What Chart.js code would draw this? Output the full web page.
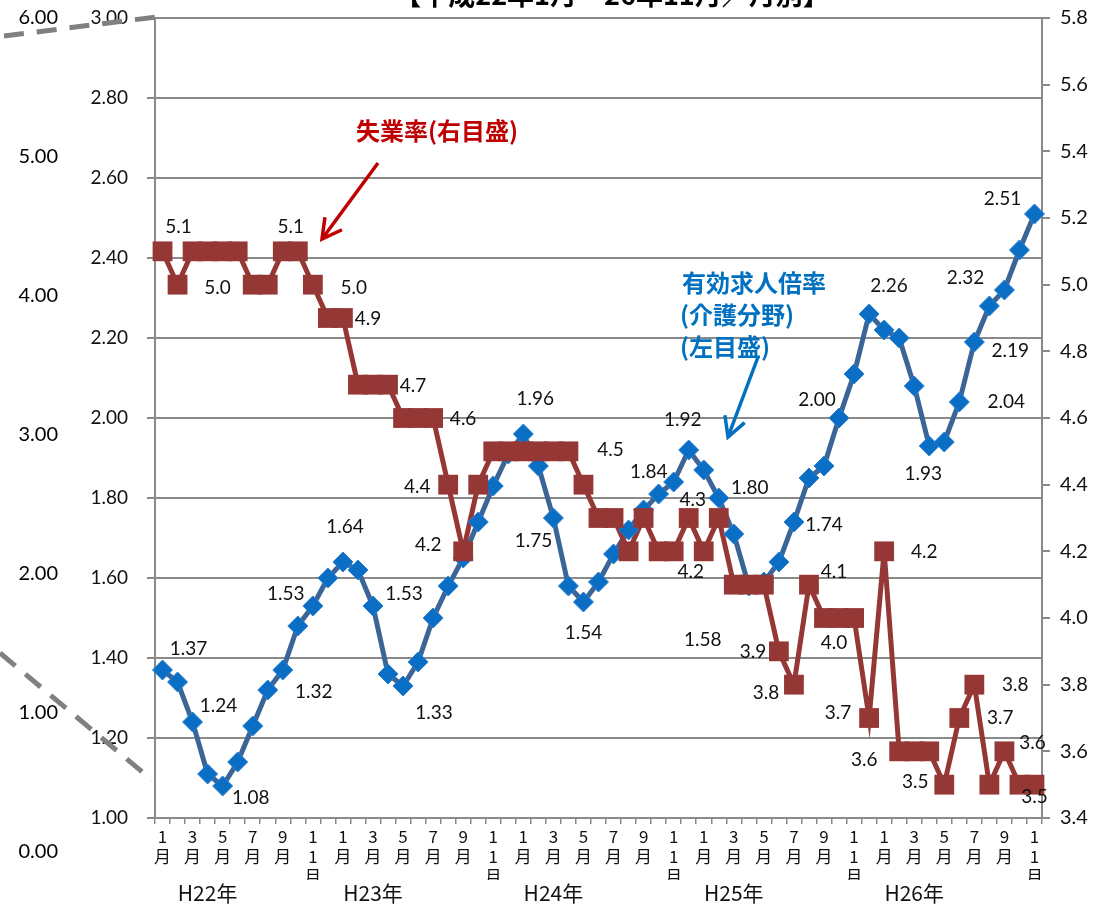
<!DOCTYPE html>
<html>
<head>
<meta charset="utf-8">
<script src="https://cdn.jsdelivr.net/npm/chart.js@4.4.0/dist/chart.umd.min.js"></script>
<style>
  html, body { margin: 0; padding: 0; background: #fff; }
</style>
</head>
<body>
<canvas id="chart" width="1098" height="908"></canvas>
<script>
// categories: H22年1月 .. H26年11月
var years = ["H22", "H23", "H24", "H25", "H26"];
var monthsPerYear = [12, 12, 12, 12, 11];
var categories = [];
years.forEach(function (y, k) {
  for (var m = 1; m <= monthsPerYear[k]; m++) categories.push(y + "年" + m + "月");
});

var yearLabels = ["H22年", "H23年", "H24年", "H25年", "H26年"];
var yearLabelAt = [3, 14, 26, 38, 50];

// 有効求人倍率（介護分野） left axis
var jobRatio = [
  1.37, 1.34, 1.24, 1.11, 1.08, 1.14, 1.23, 1.32, 1.37, 1.48, 1.53, 1.60,
  1.64, 1.62, 1.53, 1.36, 1.33, 1.39, 1.50, 1.58, 1.65, 1.74, 1.83, 1.91,
  1.96, 1.88, 1.75, 1.58, 1.54, 1.59, 1.66, 1.72, 1.77, 1.81, 1.84, 1.92,
  1.87, 1.80, 1.71, 1.58, 1.59, 1.64, 1.74, 1.85, 1.88, 2.00, 2.11, 2.26,
  2.22, 2.20, 2.08, 1.93, 1.94, 2.04, 2.19, 2.28, 2.32, 2.42, 2.51
];

// 失業率 right axis
var unemployment = [
  5.1, 5.0, 5.1, 5.1, 5.1, 5.1, 5.0, 5.0, 5.1, 5.1, 5.0, 4.9,
  4.9, 4.7, 4.7, 4.7, 4.6, 4.6, 4.6, 4.4, 4.2, 4.4, 4.5, 4.5,
  4.5, 4.5, 4.5, 4.5, 4.4, 4.3, 4.3, 4.2, 4.3, 4.2, 4.2, 4.3,
  4.2, 4.3, 4.1, 4.1, 4.1, 3.9, 3.8, 4.1, 4.0, 4.0, 4.0, 3.7,
  4.2, 3.6, 3.6, 3.6, 3.5, 3.7, 3.8, 3.5, 3.6, 3.5, 3.5
];

var leftMin = 1.0, leftMax = 3.0, leftStep = 0.2;
var rightMin = 3.4, rightMax = 5.8, rightStep = 0.2;
var outerTicks = ["6.00", "5.00", "4.00", "3.00", "2.00", "1.00", "0.00"];

// which points get a value label, and where it sits [index, dx, dy]
var ratioLabelSpots = [
  [0, 26, -21], [2, 26, -16], [4, 28, 12], [7, 46, 2], [10, -27, -12], [12, 2, -35],
  [14, 31, -12], [16, 31, 27], [24, 12, -35], [26, -20, 23], [28, 0, 31], [34, -25, -10],
  [35, -6, -30], [37, 31, -10], [39, -46, 54], [42, 30, 3], [45, -22, -18], [47, 20, -28],
  [51, -6, 28], [53, 47, 0], [54, 36, 9], [56, -39, -12], [58, -32, -15]
];
var unempLabelSpots = [
  [0, 16, -24], [1, 40, 3], [9, -7, -24], [10, 41, 3], [12, 25, 1], [15, 25, 1],
  [18, 30, 1], [19, -31, 2], [20, -35, -6], [27, 42, -1], [35, 4, -18], [34, 17, 21],
  [41, -26, 1], [42, -28, 8], [43, 25, -13], [44, 10, 25], [47, -31, -5], [48, 40, 1],
  [49, -35, 9], [52, -29, -3], [53, 41, 0], [54, 41, 0], [56, 28, -8], [58, 0, 12]
];

var GRID = "#8a8a8a";
var RED = "#953735";
var BLUE_LINE = "#3b6597";
var BLUE_MARK = "#0a6ec4";

Chart.defaults.font.family = "Lato, 'Noto Sans CJK JP', sans-serif";
Chart.defaults.color = "#000";

function arrow(ctx, x1, y1, x2, y2, color) {
  var a = Math.atan2(y2 - y1, x2 - x1), L = 22;
  ctx.save();
  ctx.strokeStyle = color;
  ctx.lineWidth = 3.5;
  ctx.beginPath();
  ctx.moveTo(x1, y1);
  ctx.lineTo(x2, y2);
  ctx.moveTo(x2 - L * Math.cos(a - 0.5), y2 - L * Math.sin(a - 0.5));
  ctx.lineTo(x2, y2);
  ctx.lineTo(x2 - L * Math.cos(a + 0.5), y2 - L * Math.sin(a + 0.5));
  ctx.stroke();
  ctx.restore();
}

var overlay = {
  id: "overlay",
  afterDatasetsDraw: function (chart) {
    var ctx = chart.ctx;
    ctx.save();
    ctx.font = "19px Lato";
    ctx.fillStyle = "#111";
    ctx.textAlign = "center";
    ctx.textBaseline = "middle";
    var blue = chart.getDatasetMeta(1).data;
    ratioLabelSpots.forEach(function (s) {
      var p = blue[s[0]];
      ctx.fillText(jobRatio[s[0]].toFixed(2), p.x + s[1], p.y + s[2]);
    });
    var red = chart.getDatasetMeta(0).data;
    unempLabelSpots.forEach(function (s) {
      var p = red[s[0]];
      ctx.fillText(unemployment[s[0]].toFixed(1), p.x + s[1], p.y + s[2]);
    });
    ctx.restore();
  },
  afterDraw: function (chart) {
    var ctx = chart.ctx;
    ctx.save();
    // title, cut off at the top edge
    ctx.font = "bold 27px 'Noto Sans CJK JP'";
    ctx.fillStyle = "#000";
    ctx.textAlign = "center";
    ctx.textBaseline = "alphabetic";
    ctx.fillText("【平成22年1月～26年11月／月別】", 612, 5);

    // outer (broken) axis labels
    ctx.font = "20px Lato";
    ctx.textAlign = "right";
    ctx.textBaseline = "middle";
    outerTicks.forEach(function (t, i) {
      ctx.fillText(t, 58, 18 + i * 139);
    });

    // dashed break lines
    ctx.strokeStyle = "#808080";
    ctx.lineWidth = 5;
    ctx.setLineDash([20, 13]);
    ctx.beginPath();
    ctx.moveTo(4, 36); ctx.lineTo(156, 17);
    ctx.moveTo(0, 653); ctx.lineTo(152, 780);
    ctx.stroke();
    ctx.setLineDash([]);

    // series captions
    ctx.font = "bold 24px 'Noto Sans CJK JP'";
    ctx.textAlign = "center";
    ctx.fillStyle = "#c00000";
    ctx.fillText("失業率(右目盛)", 437, 131);
    arrow(ctx, 378, 163, 322, 239, "#c00000");

    ctx.fillStyle = "#0070c0";
    ctx.textAlign = "left";
    ctx.fillText("有効求人倍率", 682, 283);
    ctx.fillText("(介護分野)", 680, 315);
    ctx.fillText("(左目盛)", 680, 347);
    arrow(ctx, 758, 357, 728, 437, "#0070c0");
    ctx.restore();
  }
};

new Chart(document.getElementById("chart"), {
  type: "line",
  data: {
    labels: categories,
    datasets: [
      {
        label: "失業率",
        data: unemployment,
        yAxisID: "y1",
        xAxisID: "x",
        showLine: false,
        pointStyle: "rect",
        pointRadius: 14,
        pointBackgroundColor: RED,
        pointBorderColor: RED,
        pointBorderWidth: 0,
        order: 0
      },
      {
        label: "有効求人倍率",
        data: jobRatio,
        yAxisID: "y",
        xAxisID: "x",
        showLine: false,
        pointStyle: "rectRot",
        pointRadius: 10,
        pointBackgroundColor: BLUE_MARK,
        pointBorderColor: "#2b7fd0",
        pointBorderWidth: 1,
        order: 1
      },
      {
        label: "失業率 line",
        data: unemployment,
        yAxisID: "y1",
        xAxisID: "x",
        borderColor: RED,
        borderWidth: 5,
        pointRadius: 0,
        tension: 0,
        order: 2
      },
      {
        label: "有効求人倍率 line",
        data: jobRatio,
        yAxisID: "y",
        xAxisID: "x",
        borderColor: BLUE_LINE,
        borderWidth: 5,
        pointRadius: 0,
        tension: 0,
        order: 3
      }
    ]
  },
  options: {
    responsive: false,
    animation: false,
    layout: { padding: { top: 18, left: 0, right: 0, bottom: 0 } },
    plugins: {
      legend: { display: false },
      tooltip: { enabled: false },
      title: { display: false }
    },
    scales: {
      x: {
        type: "category",
        position: "bottom",
        offset: true,
        afterFit: function (s) { s.height = 62; },
        grid: { offset: true, drawOnChartArea: false, drawTicks: true, tickLength: 6, color: GRID, lineWidth: 1.5 },
        border: { display: true, color: GRID, width: 2 },
        ticks: {
          autoSkip: false,
          maxRotation: 0,
          minRotation: 0,
          padding: 2,
          font: { family: "'Noto Sans CJK JP'", size: 17, lineHeight: 1.2 },
          color: "#111",
          callback: function (v, i) {
            var m = categories[i].match(/年(\d+)月/)[1];
            if (Number(m) % 2 === 0) return "";
            return m.split("").concat("月");
          }
        }
      },
      x2: {
        type: "category",
        position: "bottom",
        labels: categories.map(function (c, i) {
          var k = yearLabelAt.indexOf(i);
          return k >= 0 ? yearLabels[k] : "";
        }),
        offset: true,
        afterFit: function (s) { s.height = 28; },
        grid: { display: false, drawTicks: false },
        border: { display: false },
        ticks: {
          autoSkip: false,
          maxRotation: 0,
          padding: 0,
          font: { family: "'Noto Sans CJK JP'", size: 21, lineHeight: 1.2 },
          color: "#111"
        }
      },
      y: {
        type: "linear",
        position: "left",
        min: leftMin,
        max: leftMax,
        afterFit: function (s) { s.width = 155; s.paddingTop = 0; s.paddingBottom = 0; },
        grid: { color: GRID, lineWidth: 2, tickLength: 8 },
        border: { display: true, color: GRID, width: 2 },
        ticks: {
          stepSize: leftStep,
          padding: 19,
          font: { size: 19 },
          color: "#111",
          callback: function (v) { return Number(v).toFixed(2); }
        }
      },
      y1: {
        type: "linear",
        position: "right",
        min: rightMin,
        max: rightMax,
        afterFit: function (s) { s.width = 56; s.paddingTop = 0; s.paddingBottom = 0; },
        grid: { drawOnChartArea: false, color: GRID, lineWidth: 2, tickLength: 8 },
        border: { display: true, color: GRID, width: 2 },
        ticks: {
          stepSize: rightStep,
          padding: 10,
          font: { size: 20 },
          color: "#111",
          callback: function (v) { return Number(v).toFixed(1); }
        }
      }
    }
  },
  plugins: [overlay]
});
</script>
</body>
</html>
